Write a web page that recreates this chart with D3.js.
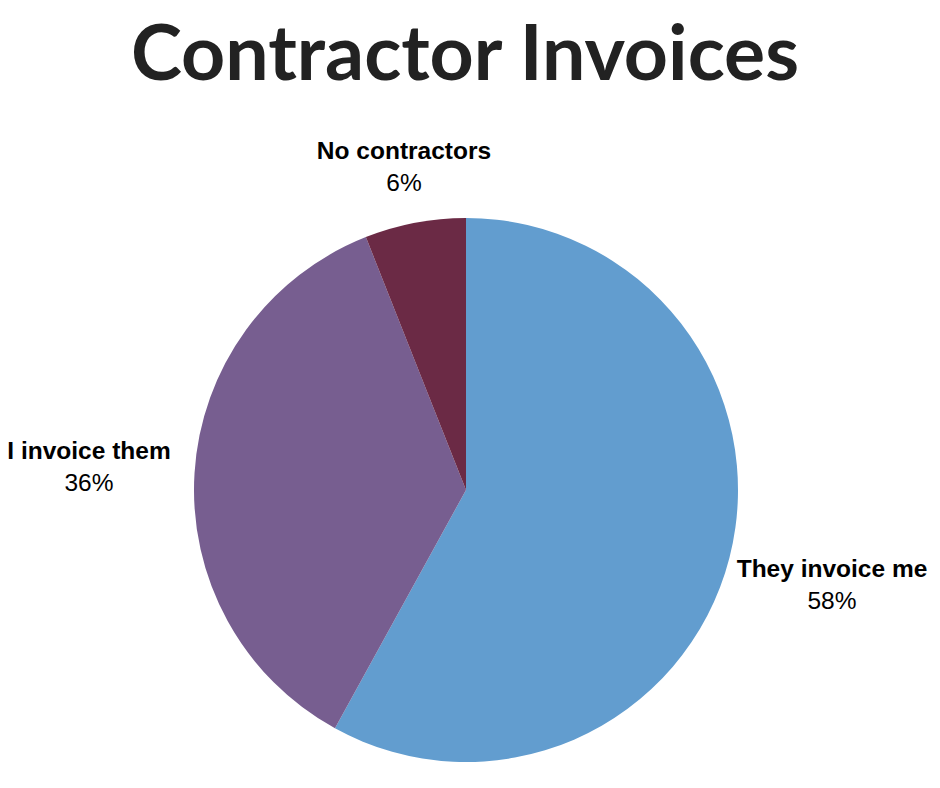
<!DOCTYPE html>
<html><head><meta charset="utf-8">
<script src="https://cdn.jsdelivr.net/npm/d3@7"></script>
<style>body{margin:0;background:#fff}</style>
</head><body>
<svg id="chart" width="940" height="788"></svg>
<script>
const categories = ["They invoice me", "I invoice them", "No contractors"];
const values = [58, 36, 6];
const colors = ["#629dcf", "#775e90", "#6b2a45"];
const title = "Contractor Invoices";

const svg = d3.select("#chart");
svg.append("rect").attr("width", 940).attr("height", 788).attr("fill", "#fff");

svg.append("text").attr("x", 465).attr("y", 80).attr("text-anchor", "middle")
  .attr("font-family", "Lato").attr("font-weight", "bold").attr("font-size", 77)
  .attr("fill", "#222").text(title);

const cx = 466, cy = 490, r = 272;
const pie = d3.pie().sort(null).value(d => d)(values);
const arc = d3.arc().innerRadius(0).outerRadius(r);
const g = svg.append("g").attr("transform", `translate(${cx},${cy})`);
g.selectAll("path").data(pie).join("path").attr("d", arc).attr("fill", (d, i) => colors[i]);

const labelPos = [[832, 577], [89, 459], [404, 159]];
categories.forEach((c, i) => {
  const [x, y] = labelPos[i];
  svg.append("text").attr("x", x).attr("y", y).attr("text-anchor", "middle")
    .attr("font-family", "Liberation Sans, Arial").attr("font-weight", "bold").attr("font-size", 24.5)
    .attr("fill", "#000").text(c);
  svg.append("text").attr("x", x).attr("y", y + 32).attr("text-anchor", "middle")
    .attr("font-family", "Liberation Sans, Arial").attr("font-size", 24.5)
    .attr("fill", "#000").text(values[i] + "%");
});
</script>
</body></html>
